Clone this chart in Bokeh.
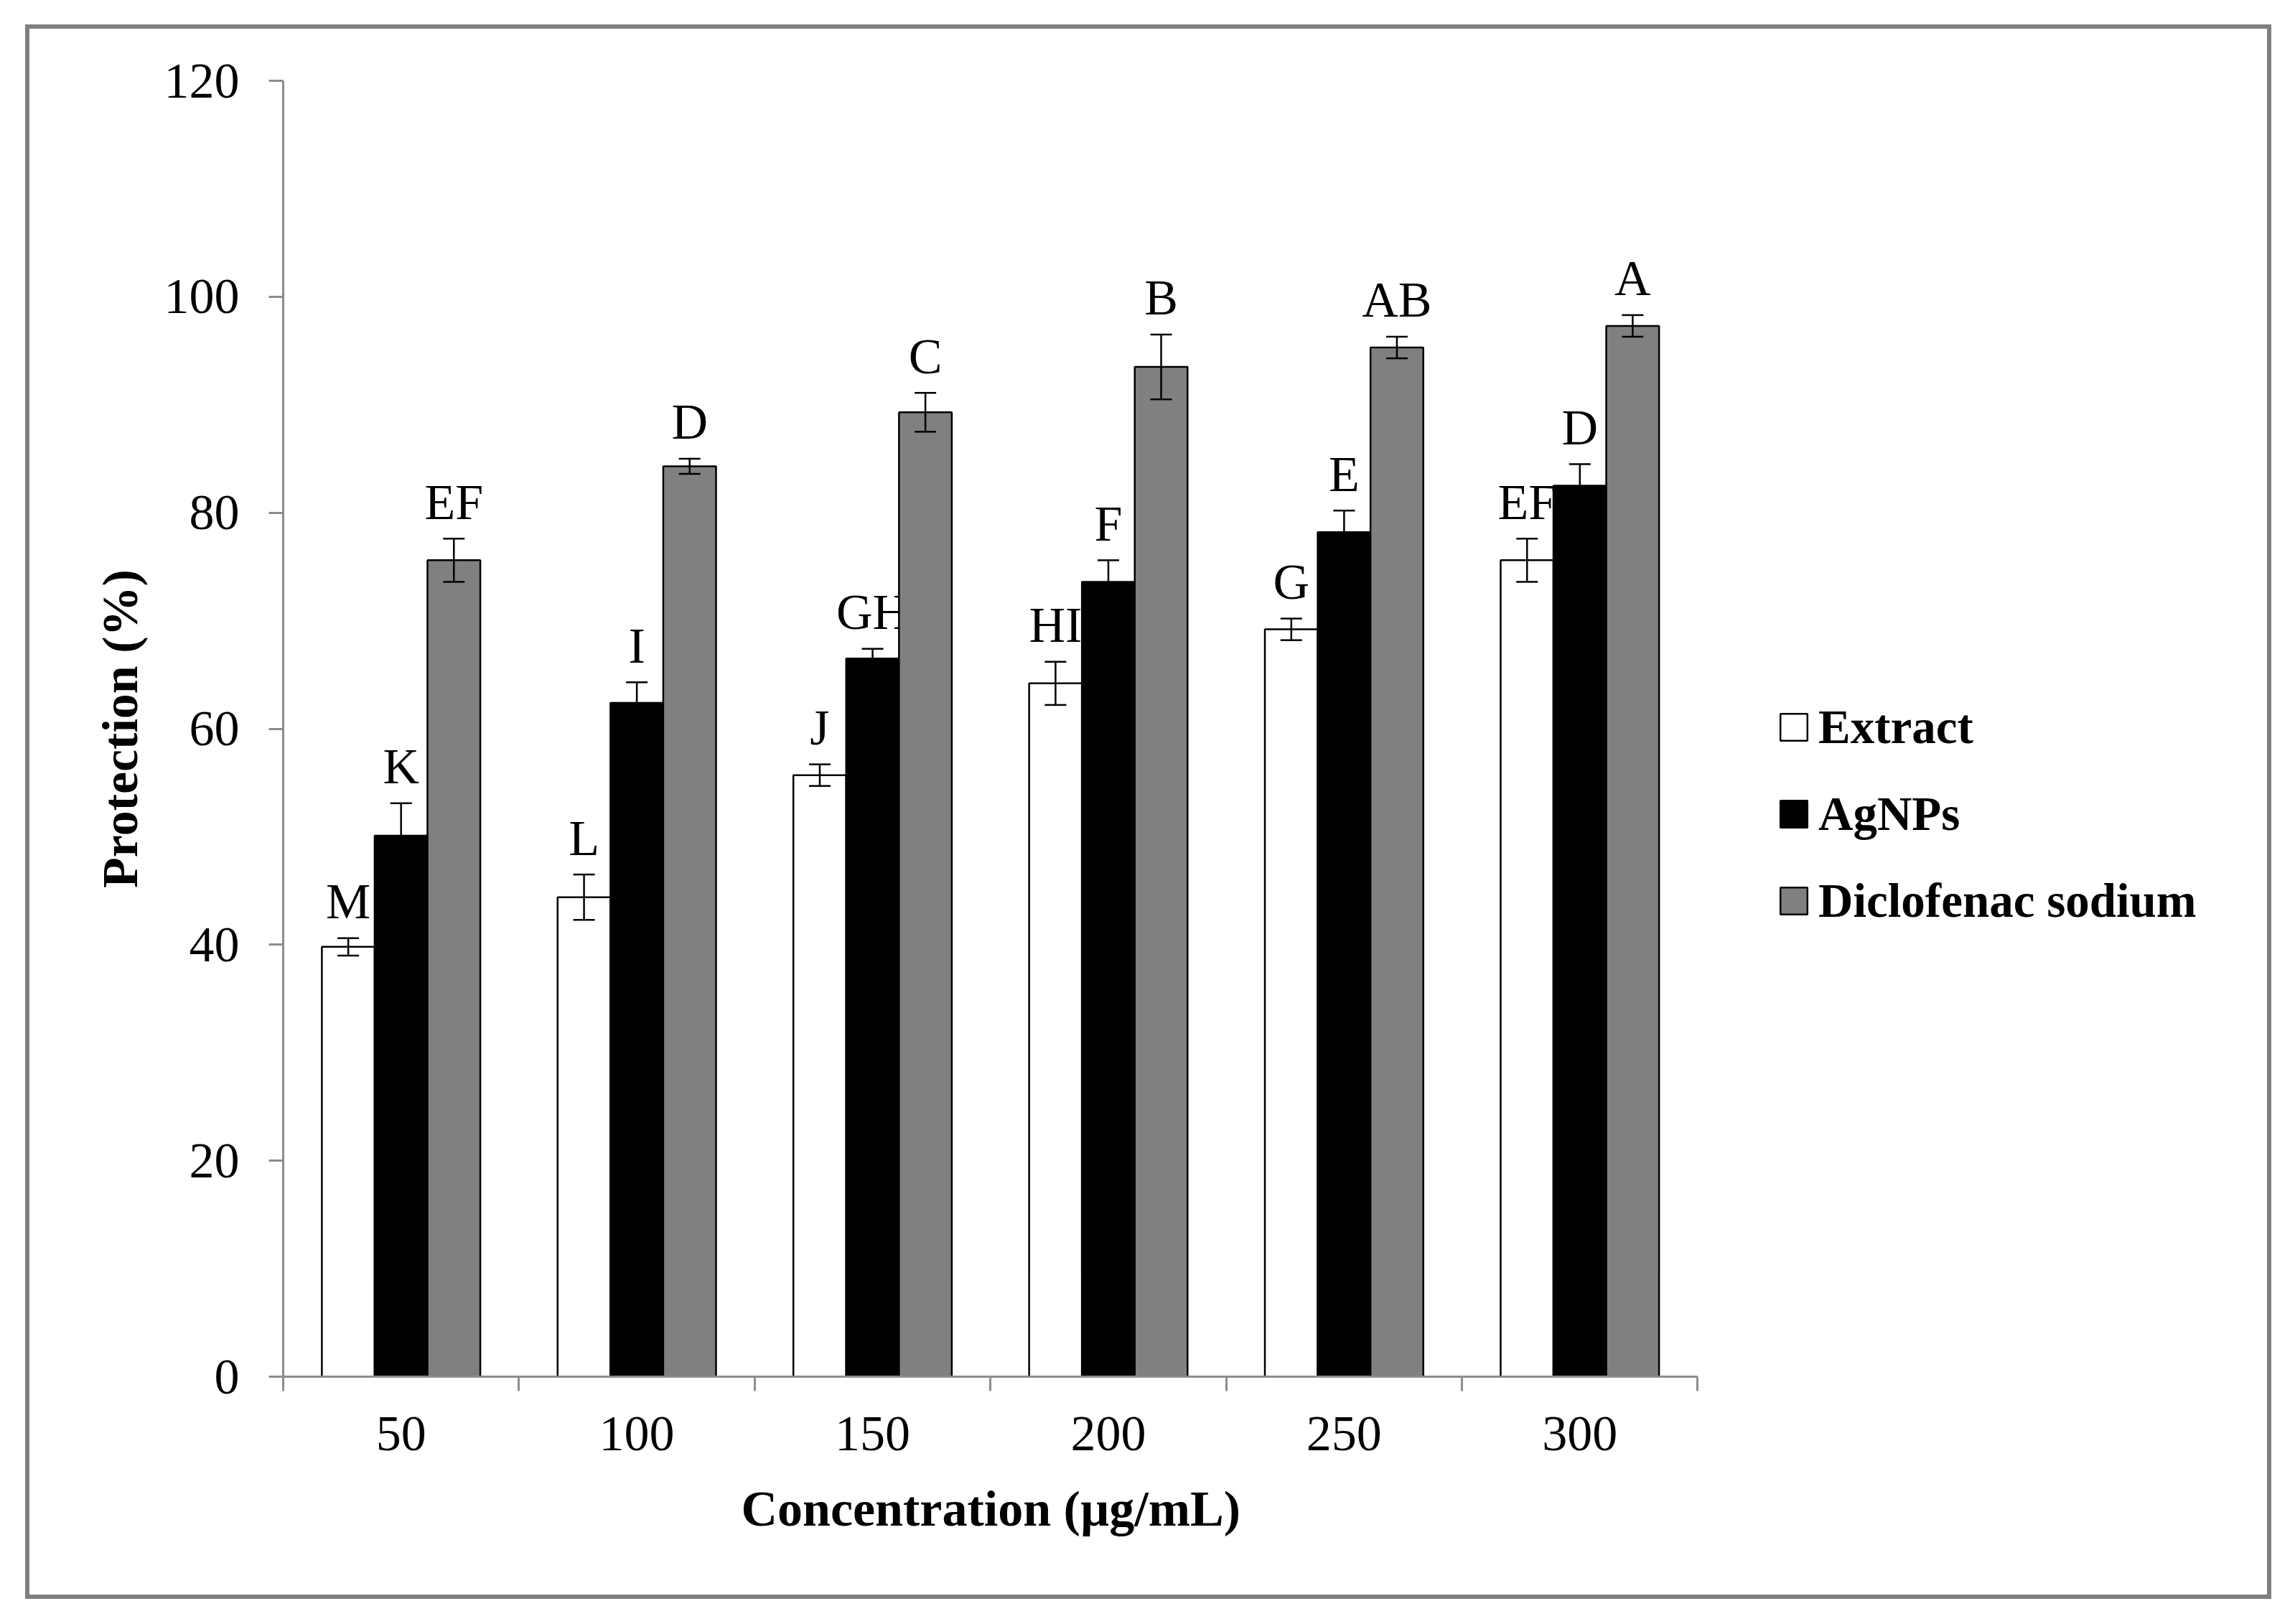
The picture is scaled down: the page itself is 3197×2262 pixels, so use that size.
from bokeh.plotting import figure
from bokeh.models import ColumnDataSource, Range1d, FixedTicker, Whisker, TeeHead, Legend, LegendItem, Title
from bokeh.transform import dodge
from bokeh.core.properties import value
from bokeh.embed import file_html
from bokeh.resources import INLINE

concentrations = ["50", "100", "150", "200", "250", "300"]
extract = [39.8, 44.4, 55.7, 64.2, 69.2, 75.6]
extract_err = [0.8, 2.1, 1.0, 2.0, 1.0, 2.0]
extract_letters = ["M", "L", "J", "HI", "G", "EF"]
agnps = [50.1, 62.4, 66.5, 73.6, 78.2, 82.5]
agnps_err = [3.0, 1.9, 0.9, 2.0, 2.0, 2.0]
agnps_letters = ["K", "I", "GH", "F", "E", "D"]
diclo = [75.6, 84.3, 89.3, 93.5, 95.3, 97.3]
diclo_err = [2.0, 0.7, 1.8, 3.0, 1.0, 1.0]
diclo_letters = ["EF", "D", "C", "B", "AB", "A"]
x_title = "Concentration (µg/mL)"
y_title = "Protection (%)"

series = [
    ("Extract", extract, extract_err, extract_letters, "white", -0.224),
    ("AgNPs", agnps, agnps_err, agnps_letters, "black", 0.0),
    ("Diclofenac sodium", diclo, diclo_err, diclo_letters, "#808080", 0.224),
]

SERIF = "Liberation Serif"
n = len(concentrations)
centers = [i + 0.5 for i in range(n)]

# frame extends to the right (blank legend area); the x axis line is bounded to the categories
p = figure(width=3129, height=2193, output_backend="svg", toolbar_location=None,
           x_range=Range1d(0, 8.27), y_range=Range1d(0, 120))
p.margin = (34, 0, 0, 35)
p.styles = {"border": "6px solid #7f7f7f"}
p.min_border_left = 353
p.min_border_right = 60
p.min_border_top = 72
p.min_border_bottom = 316
p.outline_line_color = None
p.xgrid.grid_line_color = None
p.ygrid.grid_line_color = None
p.background_fill_color = "white"
p.border_fill_color = "white"

items = []
for name, vals, errs, labs, color, off in series:
    src = ColumnDataSource(dict(
        x=centers, val=vals,
        upper=[v + e for v, e in zip(vals, errs)],
        lower=[v - e for v, e in zip(vals, errs)],
        lab=labs))
    r = p.vbar(x=dodge("x", off, range=p.x_range), top="val", width=0.224, source=src,
               fill_color=color, line_color="black", line_width=2.5)
    items.append(LegendItem(label=name, renderers=[r]))
    w = Whisker(source=src, base=dodge("x", off, range=p.x_range), upper="upper", lower="lower",
                line_color="black", line_width=2.5, level="annotation",
                upper_head=TeeHead(size=30, line_color="black", line_width=2.5),
                lower_head=TeeHead(size=30, line_color="black", line_width=2.5))
    p.add_layout(w)
    p.text(x=dodge("x", off, range=p.x_range), y="upper", text="lab", source=src,
           text_font=value(SERIF), text_font_size="70px", text_align="center",
           text_baseline="alphabetic", y_offset=-51, text_color="black")

axis_gray = "#8c8c8c"
# y axis
p.yaxis.ticker = FixedTicker(ticks=[0, 20, 40, 60, 80, 100, 120])
p.yaxis.axis_line_color = axis_gray
p.yaxis.axis_line_width = 3
p.yaxis.major_tick_line_color = axis_gray
p.yaxis.major_tick_line_width = 3
p.yaxis.major_tick_out = 20
p.yaxis.major_tick_in = 0
p.yaxis.minor_tick_line_color = None
p.yaxis.major_label_text_font = SERIF
p.yaxis.major_label_text_font_size = "70px"
p.yaxis.major_label_text_color = "black"
p.yaxis.major_label_standoff = 41
p.yaxis.axis_label = y_title
p.yaxis.axis_label_text_font = SERIF
p.yaxis.axis_label_text_font_style = "bold"
p.yaxis.axis_label_text_font_size = "70px"
p.yaxis.axis_label_text_color = "black"
p.yaxis.axis_label_standoff = 20

# x axis
p.xaxis.bounds = (0, n)
p.xaxis.ticker = FixedTicker(ticks=centers, minor_ticks=list(range(n + 1)))
p.xaxis.major_label_overrides = {c: lab for c, lab in zip(centers, concentrations)}
p.xaxis.axis_line_color = axis_gray
p.xaxis.axis_line_width = 3
p.xaxis.major_tick_line_color = None
p.xaxis.major_tick_out = 0
p.xaxis.major_tick_in = 0
p.xaxis.minor_tick_line_color = axis_gray
p.xaxis.minor_tick_line_width = 3
p.xaxis.minor_tick_out = 20
p.xaxis.minor_tick_in = 0
p.xaxis.major_label_text_font = SERIF
p.xaxis.major_label_text_font_size = "70px"
p.xaxis.major_label_text_color = "black"
p.xaxis.major_label_standoff = 36

# x axis title, centred under the category axis (not the whole frame)
xt = Title(text=x_title, align="left", offset=638, standoff=76,
           text_font=SERIF, text_font_style="bold", text_font_size="70px",
           text_color="black")
p.add_layout(xt, "below")

legend = Legend(items=items, location=(2081, 624), orientation="vertical",
                label_text_font=SERIF, label_text_font_style="bold",
                label_text_font_size="67px", label_text_color="black",
                glyph_width=47, glyph_height=47, label_standoff=11,
                spacing=44, padding=0, margin=0,
                border_line_color=None, background_fill_alpha=0)
p.add_layout(legend)

open("out.html", "w").write(file_html(p, INLINE))
